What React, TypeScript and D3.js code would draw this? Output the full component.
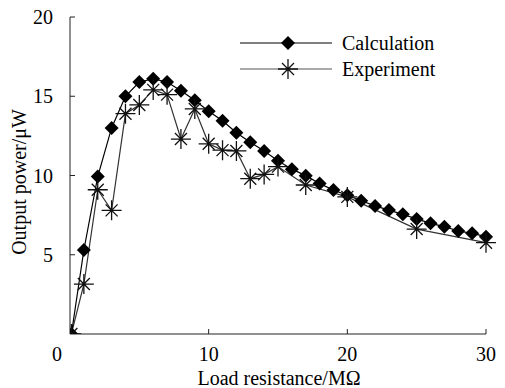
import React from "react";
import * as d3 from "d3";

const calcR = [0.1, 1, 2, 3, 4, 5, 6, 7, 8, 9, 10, 11, 12, 13, 14, 15, 16, 17, 18, 19, 20, 21, 22, 23, 24, 25, 26, 27, 28, 29, 30];
const calcP = [0, 5.3, 9.93, 13.0, 15.0, 15.9, 16.1, 15.9, 15.35, 14.75, 14.05, 13.45, 12.7, 12.1, 11.55, 10.93, 10.4, 9.99, 9.5, 9.08, 8.75, 8.41, 8.08, 7.82, 7.55, 7.26, 6.98, 6.77, 6.5, 6.35, 6.14];
const expR = [0.1, 1, 2, 3, 4, 5, 6, 7, 8, 9, 10, 11, 12, 13, 14, 15, 17, 20, 25, 30];
const expP = [0, 3.15, 9.1, 7.8, 13.9, 14.45, 15.4, 15.1, 12.3, 14.2, 12.0, 11.6, 11.55, 9.8, 10.07, 10.56, 9.4, 8.65, 6.62, 5.76];
const xTicks = [10, 20, 30];
const yTicks = [5, 10, 15, 20];
const seriesNames = ["Calculation", "Experiment"];

const W = 505, H = 388;
const FONT = "'Liberation Serif', 'Times New Roman', serif";

function Diamond({ cx, cy, r = 7 }: { cx: number; cy: number; r?: number }) {
  return <path d={`M${cx},${cy - r}L${cx + r},${cy}L${cx},${cy + r}L${cx - r},${cy}Z`} fill="#000" />;
}

function Star({ cx, cy, color }: { cx: number; cy: number; color: string }) {
  const h = 10, v = 10, d = 6;
  return (
    <path
      d={`M${cx - h},${cy}H${cx + h}M${cx},${cy - v}V${cy + v}M${cx - d},${cy - d}L${cx + d},${cy + d}M${cx - d},${cy + d}L${cx + d},${cy - d}`}
      stroke={color}
      strokeWidth={1.3}
      fill="none"
    />
  );
}

export default function App() {
  const x = d3.scaleLinear().domain([0, 30]).range([70, 486]);
  const y = d3.scaleLinear().domain([0, 20]).range([334, 17]);
  const calc = calcR.map((r, i) => [r, calcP[i]] as [number, number]);
  const exp = expR.map((r, i) => [r, expP[i]] as [number, number]);
  const line = d3.line<[number, number]>().x((d) => x(d[0])).y((d) => y(d[1]));
  const expColor = "#333";

  return (
    <div style={{ position: "absolute", left: 0, top: 0 }}>
      <svg width={W} height={H} style={{ display: "block", background: "#fff" }} fontFamily={FONT}>
        <defs>
          <clipPath id="plotClip">
            <rect x={x(0)} y={0} width={x(30) - x(0) + 20} height={y(0)} />
          </clipPath>
        </defs>
        {/* axes */}
        <line x1={x(0)} x2={x(30)} y1={y(0)} y2={y(0)} stroke="#222" strokeWidth={1} />
        <line x1={x(0)} x2={x(0)} y1={y(0)} y2={y(20)} stroke="#222" strokeWidth={1} />
        {xTicks.map((t) => (
          <g key={"xt" + t}>
            <line x1={x(t)} x2={x(t)} y1={y(0)} y2={y(0) - 5} stroke="#222" />
            <text x={x(t)} y={y(0) + 27} fontSize={20} textAnchor="middle" fill="#000">{t}</text>
          </g>
        ))}
        <text x={x(0) - 13} y={y(0) + 27} fontSize={20} textAnchor="middle" fill="#000">0</text>
        {yTicks.map((t) => (
          <g key={"yt" + t}>
            <line x1={x(0)} x2={x(0) + 5} y1={y(t)} y2={y(t)} stroke="#222" />
            <text x={53} y={y(t) + 7} fontSize={20} textAnchor="end" fill="#000">{t}</text>
          </g>
        ))}
        <text x={279} y={385} fontSize={20} textAnchor="middle" fill="#000">Load resistance/MΩ</text>
        <text transform={`translate(26,182) rotate(-90)`} fontSize={20} textAnchor="middle" fill="#000">Output power/μW</text>

        {/* series */}
        <g clipPath="url(#plotClip)">
          <path d={line(exp) || ""} fill="none" stroke={expColor} strokeWidth={1.2} />
          <path d={line(calc) || ""} fill="none" stroke="#000" strokeWidth={1.2} />
          {calc.map((d, i) => (
            <Diamond key={"c" + i} cx={x(d[0])} cy={y(d[1])} />
          ))}
          {exp.map((d, i) => (
            <Star key={"e" + i} cx={x(d[0])} cy={y(d[1])} color="#111" />
          ))}
        </g>

        {/* legend */}
        <line x1={240} x2={332} y1={43} y2={43} stroke="#000" strokeWidth={1.2} />
        <Diamond cx={288} cy={43} />
        <text x={342} y={50} fontSize={20} fill="#000">{seriesNames[0]}</text>
        <line x1={240} x2={332} y1={69} y2={69} stroke="#555" strokeWidth={1.2} />
        <Star cx={288} cy={69} color="#111" />
        <text x={342} y={76} fontSize={20} fill="#000">{seriesNames[1]}</text>
      </svg>
    </div>
  );
}
